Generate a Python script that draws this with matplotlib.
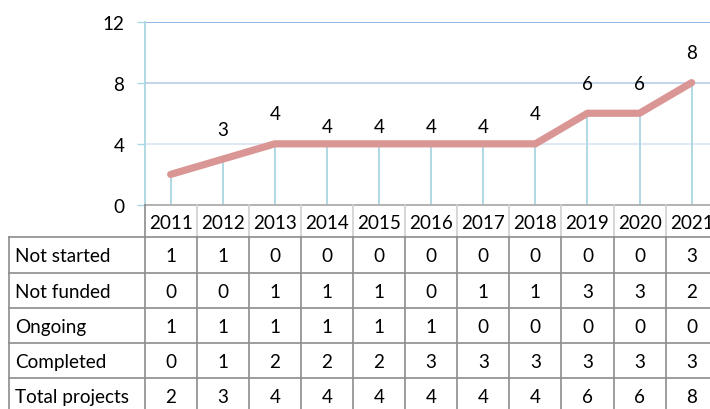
import matplotlib
matplotlib.use('Agg')
import matplotlib.pyplot as plt
from matplotlib.transforms import blended_transform_factory
from matplotlib.lines import Line2D

plt.rcParams['font.family'] = ['Lato', 'DejaVu Sans']

years = ['2011', '2012', '2013', '2014', '2015', '2016', '2017', '2018', '2019', '2020', '2021']
row_labels = ['Not started', 'Not funded', 'Ongoing', 'Completed', 'Total projects']
not_started = [1, 1, 0, 0, 0, 0, 0, 0, 0, 0, 3]
not_funded = [0, 0, 1, 1, 1, 0, 1, 1, 3, 3, 2]
ongoing = [1, 1, 1, 1, 1, 1, 0, 0, 0, 0, 0]
completed = [0, 1, 2, 2, 2, 3, 3, 3, 3, 3, 3]
total_projects = [2, 3, 4, 4, 4, 4, 4, 4, 6, 6, 8]
y_ticks = [0, 4, 8, 12]

W, H = 710, 410
FS = 13.6
fig = plt.figure(figsize=(W / 100, H / 100), dpi=100)

# pixel geometry (from top-left)
ax_left, col_w = 144.6, 52.1
y_zero, y_top = 206.0, 22.5
ax = fig.add_axes([ax_left / W, 1 - y_zero / H, len(years) * col_w / W, (y_zero - y_top) / H])
ax.set_xlim(-0.5, len(years) - 0.5)
ax.set_ylim(0, 12)

x = list(range(len(years)))
axis_blue = '#A9D7E3'

# gridlines
for t in y_ticks[1:]:
    color = '#8EB4E3' if t == y_ticks[-1] else ('#BDD0E9' if t == 8 else '#DCE6F2')
    ax.axhline(t, color=color, lw=1.3, zorder=1)

# drop lines
ax.vlines(x, 0, total_projects, color=axis_blue, lw=1.3, zorder=2)

# main line
ax.plot(x, total_projects, color='#D99694', lw=5.2, solid_capstyle='round',
        solid_joinstyle='round', zorder=3)

# data labels
for i, v in enumerate(total_projects):
    if i == 0:
        continue
    flat = (i + 1 < len(total_projects) and total_projects[i - 1] == v == total_projects[i + 1])
    off = 12.2 if flat else 21.6
    ax.annotate(str(v), (i, v), xytext=(0, off), textcoords='offset points',
                ha='center', va='center', fontsize=FS, color='#000000', zorder=4)

# axes styling
for s in ['top', 'right', 'bottom']:
    ax.spines[s].set_visible(False)
ax.spines['left'].set_color(axis_blue)
ax.spines['left'].set_linewidth(1.3)
ax.set_xticks([])
ax.set_yticks(y_ticks)
ax.set_yticklabels([str(t) for t in y_ticks], fontsize=FS)
ax.tick_params(axis='y', length=5.5, width=1.0, color=axis_blue, pad=9)
ax.patch.set_alpha(0)

# ---- data table ----
trans = blended_transform_factory(ax.transData, fig.transFigure)
ftrans = fig.transFigure

def fy(py):
    return 1 - py / H

header_top, header_bot = 206.0, 238.3
row_h = 35.2
rows = [not_started, not_funded, ongoing, completed, total_projects]
row_tops = [header_bot + k * row_h for k in range(len(rows) + 1)]

dark = '#8C8C8C'
light = '#D0D0D0'
lw_t = 1.2
left_px = 9.0
xb = [i - 0.5 for i in range(len(years) + 1)]

# header row
fig.add_artist(Line2D([xb[0], xb[-1]], [fy(header_top)] * 2, transform=trans,
                      color='#A6A6A6', lw=lw_t, clip_on=False))
for j, b in enumerate(xb):
    c = dark if j == 0 else light
    fig.add_artist(Line2D([b, b], [fy(header_top), fy(header_bot)], transform=trans,
                          color=c, lw=lw_t, clip_on=False))
for i, yr in enumerate(years):
    t = fig.text(0, fy((header_top + header_bot) / 2 + 1), yr, transform=trans,
                 ha='center', va='center', fontsize=FS)
    t.set_x(i)

# body horizontal lines
for rt in row_tops:
    fig.add_artist(Line2D([left_px / W, (ax_left + len(years) * col_w) / W], [fy(rt)] * 2,
                          transform=ftrans, color=dark, lw=lw_t, clip_on=False))
# left border
fig.add_artist(Line2D([left_px / W] * 2, [fy(row_tops[0]), fy(row_tops[-1])],
                      transform=ftrans, color=dark, lw=lw_t, clip_on=False))
# column lines
for b in xb:
    fig.add_artist(Line2D([b, b], [fy(row_tops[0]), fy(row_tops[-1])], transform=trans,
                          color=dark, lw=lw_t, clip_on=False))

for r, (lab, vals) in enumerate(zip(row_labels, rows)):
    cy = fy((row_tops[r] + row_tops[r + 1]) / 2 + 1)
    fig.text(15 / W, cy, lab, ha='left', va='center', fontsize=FS)
    for i, v in enumerate(vals):
        t = fig.text(0, cy, str(v), transform=trans, ha='center', va='center', fontsize=FS)
        t.set_x(i)

fig.savefig('out.png', dpi=100)
